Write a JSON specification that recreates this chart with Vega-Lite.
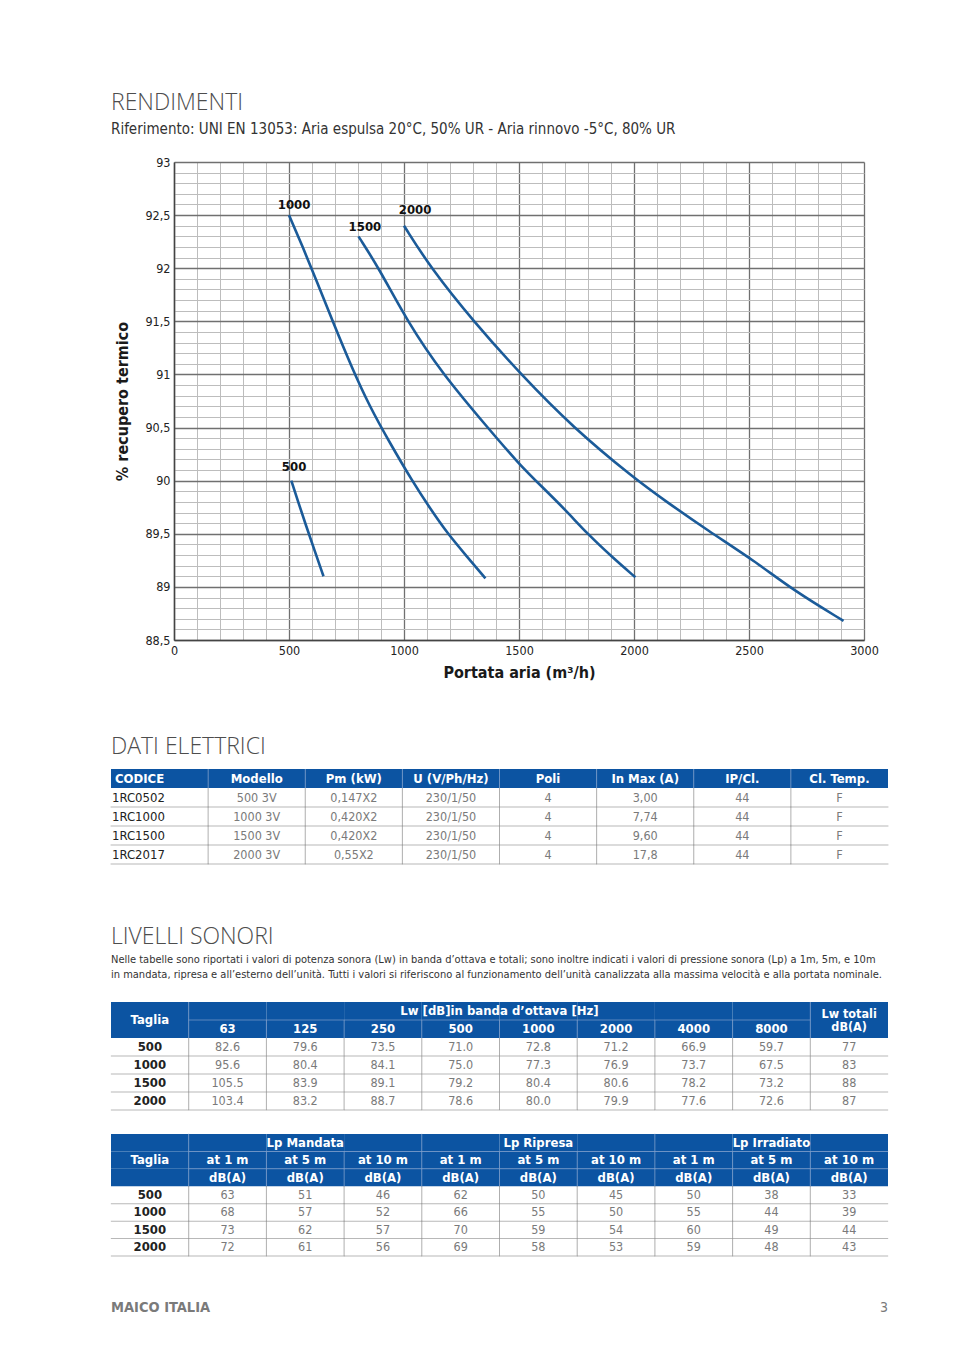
{
  "$schema": "https://vega.github.io/schema/vega-lite/v6.json",
  "background": "white",
  "padding": {"left": 110, "top": 92, "right": 10, "bottom": 10},
  "config": {
    "view": {"stroke": null},
    "font": "Liberation Sans Narrow, Arial Narrow, DejaVu Sans Condensed, sans-serif"
  },
  "datasets": {
    "curves": [
      {"model": "500", "x": 510, "y": 90.0}, {"model": "500", "x": 540, "y": 89.8}, {"model": "500", "x": 572, "y": 89.59}, {"model": "500", "x": 610, "y": 89.35}, {"model": "500", "x": 650, "y": 89.1},
      {"model": "1000", "x": 500, "y": 92.5}, {"model": "1000", "x": 560, "y": 92.2}, {"model": "1000", "x": 620, "y": 91.88}, {"model": "1000", "x": 690, "y": 91.5}, {"model": "1000", "x": 770, "y": 91.08}, {"model": "1000", "x": 850, "y": 90.7}, {"model": "1000", "x": 940, "y": 90.35}, {"model": "1000", "x": 1035, "y": 90.0}, {"model": "1000", "x": 1110, "y": 89.75}, {"model": "1000", "x": 1190, "y": 89.5}, {"model": "1000", "x": 1272, "y": 89.29}, {"model": "1000", "x": 1354, "y": 89.08},
      {"model": "1500", "x": 802, "y": 92.3}, {"model": "1500", "x": 891, "y": 92.0}, {"model": "1500", "x": 1014, "y": 91.5}, {"model": "1500", "x": 1169, "y": 91.0}, {"model": "1500", "x": 1364, "y": 90.5}, {"model": "1500", "x": 1498, "y": 90.16}, {"model": "1500", "x": 1601, "y": 89.94}, {"model": "1500", "x": 1704, "y": 89.72}, {"model": "1500", "x": 1797, "y": 89.5}, {"model": "1500", "x": 1910, "y": 89.27}, {"model": "1500", "x": 2006, "y": 89.09},
      {"model": "2000", "x": 1000, "y": 92.4}, {"model": "2000", "x": 1117, "y": 92.0}, {"model": "2000", "x": 1302, "y": 91.5}, {"model": "2000", "x": 1508, "y": 91.0}, {"model": "2000", "x": 1735, "y": 90.5}, {"model": "2000", "x": 2002, "y": 90.02}, {"model": "2000", "x": 2136, "y": 89.81}, {"model": "2000", "x": 2321, "y": 89.53}, {"model": "2000", "x": 2527, "y": 89.24}, {"model": "2000", "x": 2691, "y": 88.97}, {"model": "2000", "x": 2911, "y": 88.68}
    ],
    "labels": [
      {"label": "1000", "x": 522, "y": 92.595},
      {"label": "1500", "x": 830, "y": 92.39},
      {"label": "2000", "x": 1048, "y": 92.55},
      {"label": "500", "x": 522, "y": 90.13}
    ],
    "eh": [
      {"r": "h", "key": "cod", "t": "CODICE"}, {"r": "h", "key": "mod", "t": "Modello"}, {"r": "h", "key": "pm", "t": "Pm (kW)"}, {"r": "h", "key": "u", "t": "U (V/Ph/Hz)"},
      {"r": "h", "key": "poli", "t": "Poli"}, {"r": "h", "key": "inmax", "t": "In Max (A)"}, {"r": "h", "key": "ip", "t": "IP/Cl."}, {"r": "h", "key": "cl", "t": "Cl. Temp."}
    ],
    "eb": [
      {"r": "1RC0502", "cod": "1RC0502", "mod": "500 3V", "pm": "0,147X2", "u": "230/1/50", "poli": "4", "inmax": "3,00", "ip": "44", "cl": "F"},
      {"r": "1RC1000", "cod": "1RC1000", "mod": "1000 3V", "pm": "0,420X2", "u": "230/1/50", "poli": "4", "inmax": "7,74", "ip": "44", "cl": "F"},
      {"r": "1RC1500", "cod": "1RC1500", "mod": "1500 3V", "pm": "0,420X2", "u": "230/1/50", "poli": "4", "inmax": "9,60", "ip": "44", "cl": "F"},
      {"r": "1RC2017", "cod": "1RC2017", "mod": "2000 3V", "pm": "0,55X2", "u": "230/1/50", "poli": "4", "inmax": "17,8", "ip": "44", "cl": "F"}
    ],
    "lwh": [
      {"r": "h2", "key": "Taglia", "t": "Taglia"},
      {"r": "h1", "key": "1000", "t": "Lw [dB]in banda d’ottava [Hz]"},
      {"r": "h2", "key": "63", "t": "63"}, {"r": "h2", "key": "125", "t": "125"}, {"r": "h2", "key": "250", "t": "250"}, {"r": "h2", "key": "500", "t": "500"},
      {"r": "h2", "key": "1000", "t": "1000"}, {"r": "h2", "key": "2000", "t": "2000"}, {"r": "h2", "key": "4000", "t": "4000"}, {"r": "h2", "key": "8000", "t": "8000"},
      {"r": "h2", "key": "tot", "t": "Lw totali\ndB(A)"}
    ],
    "lw": [
      {"r": "500", "Taglia": "500", "63": "82.6", "125": "79.6", "250": "73.5", "500": "71.0", "1000": "72.8", "2000": "71.2", "4000": "66.9", "8000": "59.7", "tot": "77"},
      {"r": "1000", "Taglia": "1000", "63": "95.6", "125": "80.4", "250": "84.1", "500": "75.0", "1000": "77.3", "2000": "76.9", "4000": "73.7", "8000": "67.5", "tot": "83"},
      {"r": "1500", "Taglia": "1500", "63": "105.5", "125": "83.9", "250": "89.1", "500": "79.2", "1000": "80.4", "2000": "80.6", "4000": "78.2", "8000": "73.2", "tot": "88"},
      {"r": "2000", "Taglia": "2000", "63": "103.4", "125": "83.2", "250": "88.7", "500": "78.6", "1000": "80.0", "2000": "79.9", "4000": "77.6", "8000": "72.6", "tot": "87"}
    ],
    "lph": [
      {"r": "h1", "key": "M5", "t": "Lp Mandata"}, {"r": "h1", "key": "R5", "t": "Lp Ripresa"}, {"r": "h1", "key": "I5", "t": "Lp Irradiato"},
      {"r": "h2", "key": "Taglia", "t": "Taglia"},
      {"r": "h2", "key": "M1", "t": "at 1 m"}, {"r": "h2", "key": "M5", "t": "at 5 m"}, {"r": "h2", "key": "M10", "t": "at 10 m"},
      {"r": "h2", "key": "R1", "t": "at 1 m"}, {"r": "h2", "key": "R5", "t": "at 5 m"}, {"r": "h2", "key": "R10", "t": "at 10 m"},
      {"r": "h2", "key": "I1", "t": "at 1 m"}, {"r": "h2", "key": "I5", "t": "at 5 m"}, {"r": "h2", "key": "I10", "t": "at 10 m"},
      {"r": "h3", "key": "Taglia", "t": ""},
      {"r": "h3", "key": "M1", "t": "dB(A)"}, {"r": "h3", "key": "M5", "t": "dB(A)"}, {"r": "h3", "key": "M10", "t": "dB(A)"},
      {"r": "h3", "key": "R1", "t": "dB(A)"}, {"r": "h3", "key": "R5", "t": "dB(A)"}, {"r": "h3", "key": "R10", "t": "dB(A)"},
      {"r": "h3", "key": "I1", "t": "dB(A)"}, {"r": "h3", "key": "I5", "t": "dB(A)"}, {"r": "h3", "key": "I10", "t": "dB(A)"}
    ],
    "lp": [
      {"r": "500", "Taglia": "500", "M1": "63", "M5": "51", "M10": "46", "R1": "62", "R5": "50", "R10": "45", "I1": "50", "I5": "38", "I10": "33"},
      {"r": "1000", "Taglia": "1000", "M1": "68", "M5": "57", "M10": "52", "R1": "66", "R5": "55", "R10": "50", "I1": "55", "I5": "44", "I10": "39"},
      {"r": "1500", "Taglia": "1500", "M1": "73", "M5": "62", "M10": "57", "R1": "70", "R5": "59", "R10": "54", "I1": "60", "I5": "49", "I10": "44"},
      {"r": "2000", "Taglia": "2000", "M1": "72", "M5": "61", "M10": "56", "R1": "69", "R5": "58", "R10": "53", "I1": "59", "I5": "48", "I10": "43"}
    ],
    "foot": [
      {"side": "L", "t": "MAICO ITALIA"},
      {"side": "R", "t": "3"}
    ]
  },
  "spacing": 61,
  "vconcat": [
    {
      "spacing": 55,
      "vconcat": [
        {
          "width": 753,
          "height": 478,
          "title": {
            "text": "RENDIMENTI",
            "subtitle": "Riferimento: UNI EN 13053: Aria espulsa 20°C, 50% UR - Aria rinnovo -5°C, 80% UR",
            "anchor": "start", "frame": "group",
            "font": "Open Sans", "fontSize": 23, "fontWeight": 300, "color": "#4d4d4d",
            "subtitleFont": "Liberation Sans Narrow, Arial Narrow, DejaVu Sans Condensed, sans-serif",
            "subtitleFontSize": 15, "subtitleColor": "#333333", "subtitlePadding": 7, "offset": 19
          },
          "encoding": {
            "x": {
              "field": "x", "type": "quantitative",
              "scale": {"domain": [0, 3000], "nice": false, "range": [63, 753]},
              "axis": {
                "title": "Portata aria (m³/h)",
                "values": [0, 100, 200, 300, 400, 500, 600, 700, 800, 900, 1000, 1100, 1200, 1300, 1400, 1500, 1600, 1700, 1800, 1900, 2000, 2100, 2200, 2300, 2400, 2500, 2600, 2700, 2800, 2900, 3000],
                "format": "d",
                "grid": true,
                "gridColor": {"condition": {"test": "datum.value % 500 == 0", "value": "#707070"}, "value": "#bdbdbd"},
                "gridWidth": {"condition": {"test": "datum.value % 500 == 0", "value": 1.3}, "value": 1},
                "ticks": false,
                "domainColor": "#444444", "domainWidth": 1.5,
                "labelExpr": "datum.value % 500 == 0 ? datum.label : ''",
                "labelOverlap": false, "labelFlush": false,
                "labelFontSize": 12.5, "labelColor": "#222222", "labelPadding": 4,
                "titleFontSize": 16, "titleFontWeight": "bold", "titleColor": "#1a1a1a", "titlePadding": 8
              }
            },
            "y": {
              "field": "y", "type": "quantitative",
              "scale": {"domain": [88.5, 93], "nice": false, "zero": false},
              "axis": {
                "title": "% recupero termico",
                "offset": -63,
                "values": [88.5, 88.6, 88.7, 88.8, 88.9, 89, 89.1, 89.2, 89.3, 89.4, 89.5, 89.6, 89.7, 89.8, 89.9, 90, 90.1, 90.2, 90.3, 90.4, 90.5, 90.6, 90.7, 90.8, 90.9, 91, 91.1, 91.2, 91.3, 91.4, 91.5, 91.6, 91.7, 91.8, 91.9, 92, 92.1, 92.2, 92.3, 92.4, 92.5, 92.6, 92.7, 92.8, 92.9, 93],
                "grid": true,
                "gridColor": {"condition": {"test": "abs(datum.value*2 - round(datum.value*2)) < 0.01", "value": "#707070"}, "value": "#bdbdbd"},
                "gridWidth": {"condition": {"test": "abs(datum.value*2 - round(datum.value*2)) < 0.01", "value": 1.3}, "value": 1},
                "ticks": false,
                "domainColor": "#444444", "domainWidth": 1.5,
                "labelExpr": "abs(datum.value*2 - round(datum.value*2)) < 0.01 ? replace(format(datum.value, '.1~f'), '.', ',') : ''",
                "labelOverlap": false, "labelFlush": false,
                "labelFontSize": 12.5, "labelColor": "#222222", "labelPadding": 4,
                "titleFontSize": 16, "titleFontWeight": "bold", "titleColor": "#1a1a1a", "titlePadding": 14
              }
            }
          },
          "layer": [
            {
              "data": {"name": "curves"},
              "mark": {"type": "line", "color": "#1b5b99", "strokeWidth": 2.6, "interpolate": "basis"},
              "encoding": {"detail": {"field": "model", "type": "nominal"}}
            },
            {
              "data": {"name": "labels"},
              "mark": {"type": "text", "fontWeight": "bold", "fontSize": 13, "color": "#111111"},
              "encoding": {"text": {"field": "label"}}
            }
          ]
        },
        {
          "width": 777,
          "height": 95,
          "title": {"text": "DATI ELETTRICI", "anchor": "start", "frame": "group", "font": "Open Sans", "fontSize": 23, "fontWeight": 300, "color": "#4d4d4d", "offset": 10},
          "layer": [
            {
              "data": {"name": "eh"},
              "mark": {"type": "rect", "color": "#0c54a2"},
              "encoding": {
                "x": {"field": "key", "type": "nominal", "scale": {"type": "band", "domain": ["cod", "mod", "pm", "u", "poli", "inmax", "ip", "cl"], "paddingInner": 0, "paddingOuter": 0}, "axis": null},
                "y": {"field": "r", "type": "nominal", "scale": {"type": "band", "domain": ["h", "1RC0502", "1RC1000", "1RC1500", "1RC2017"], "paddingInner": 0, "paddingOuter": 0}, "axis": null}
              }
            },
            {
              "data": {"name": "eh"},
              "transform": [{"filter": "datum.key != 'cod'"}],
              "mark": {"type": "tick", "orient": "vertical", "color": "#7d9dcb", "size": 19, "thickness": 1},
              "encoding": {
                "x": {"field": "key", "type": "nominal", "bandPosition": 0, "scale": {"type": "band", "domain": ["cod", "mod", "pm", "u", "poli", "inmax", "ip", "cl"], "paddingInner": 0, "paddingOuter": 0}, "axis": null},
                "y": {"field": "r", "type": "nominal", "scale": {"type": "band", "domain": ["h", "1RC0502", "1RC1000", "1RC1500", "1RC2017"], "paddingInner": 0, "paddingOuter": 0}, "axis": null}
              }
            },
            {
              "data": {"name": "eh"},
              "transform": [{"filter": "datum.key != 'cod'"}],
              "mark": {"type": "text", "color": "white", "fontWeight": "bold", "fontSize": 13},
              "encoding": {
                "x": {"field": "key", "type": "nominal", "scale": {"type": "band", "domain": ["cod", "mod", "pm", "u", "poli", "inmax", "ip", "cl"], "paddingInner": 0, "paddingOuter": 0}, "axis": null},
                "y": {"field": "r", "type": "nominal", "scale": {"type": "band", "domain": ["h", "1RC0502", "1RC1000", "1RC1500", "1RC2017"], "paddingInner": 0, "paddingOuter": 0}, "axis": null},
                "text": {"field": "t"}
              }
            },
            {
              "data": {"name": "eh"},
              "transform": [{"filter": "datum.key == 'cod'"}],
              "mark": {"type": "text", "color": "white", "fontWeight": "bold", "fontSize": 13, "align": "left", "dx": 4},
              "encoding": {
                "x": {"field": "key", "type": "nominal", "bandPosition": 0, "scale": {"type": "band", "domain": ["cod", "mod", "pm", "u", "poli", "inmax", "ip", "cl"], "paddingInner": 0, "paddingOuter": 0}, "axis": null},
                "y": {"field": "r", "type": "nominal", "scale": {"type": "band", "domain": ["h", "1RC0502", "1RC1000", "1RC1500", "1RC2017"], "paddingInner": 0, "paddingOuter": 0}, "axis": null},
                "text": {"field": "t"}
              }
            },
            {
              "data": {"name": "eb"},
              "transform": [{"fold": ["cod", "mod", "pm", "u", "poli", "inmax", "ip", "cl"], "as": ["key", "t"]}, {"filter": "datum.key != 'cod'"}],
              "mark": {"type": "tick", "orient": "vertical", "color": "#8c8c8c", "size": 19, "thickness": 1},
              "encoding": {
                "x": {"field": "key", "type": "nominal", "bandPosition": 0, "scale": {"type": "band", "domain": ["cod", "mod", "pm", "u", "poli", "inmax", "ip", "cl"], "paddingInner": 0, "paddingOuter": 0}, "axis": null},
                "y": {"field": "r", "type": "nominal", "scale": {"type": "band", "domain": ["h", "1RC0502", "1RC1000", "1RC1500", "1RC2017"], "paddingInner": 0, "paddingOuter": 0}, "axis": null}
              }
            },
            {
              "data": {"name": "eb"},
              "transform": [{"fold": ["cod", "mod", "pm", "u", "poli", "inmax", "ip", "cl"], "as": ["key", "t"]}],
              "mark": {"type": "tick", "orient": "horizontal", "color": "#9a9a9a", "size": 98, "thickness": 1},
              "encoding": {
                "x": {"field": "key", "type": "nominal", "scale": {"type": "band", "domain": ["cod", "mod", "pm", "u", "poli", "inmax", "ip", "cl"], "paddingInner": 0, "paddingOuter": 0}, "axis": null},
                "y": {"field": "r", "type": "nominal", "bandPosition": 1, "scale": {"type": "band", "domain": ["h", "1RC0502", "1RC1000", "1RC1500", "1RC2017"], "paddingInner": 0, "paddingOuter": 0}, "axis": null}
              }
            },
            {
              "data": {"name": "eb"},
              "transform": [{"fold": ["cod", "mod", "pm", "u", "poli", "inmax", "ip", "cl"], "as": ["key", "t"]}, {"filter": "datum.key != 'cod'"}],
              "mark": {"type": "text", "color": "#7a7a7a", "fontSize": 12.5},
              "encoding": {
                "x": {"field": "key", "type": "nominal", "scale": {"type": "band", "domain": ["cod", "mod", "pm", "u", "poli", "inmax", "ip", "cl"], "paddingInner": 0, "paddingOuter": 0}, "axis": null},
                "y": {"field": "r", "type": "nominal", "scale": {"type": "band", "domain": ["h", "1RC0502", "1RC1000", "1RC1500", "1RC2017"], "paddingInner": 0, "paddingOuter": 0}, "axis": null},
                "text": {"field": "t"}
              }
            },
            {
              "data": {"name": "eb"},
              "transform": [{"fold": ["cod", "mod", "pm", "u", "poli", "inmax", "ip", "cl"], "as": ["key", "t"]}, {"filter": "datum.key == 'cod'"}],
              "mark": {"type": "text", "color": "#222222", "fontSize": 13, "align": "left", "dx": 1},
              "encoding": {
                "x": {"field": "key", "type": "nominal", "bandPosition": 0, "scale": {"type": "band", "domain": ["cod", "mod", "pm", "u", "poli", "inmax", "ip", "cl"], "paddingInner": 0, "paddingOuter": 0}, "axis": null},
                "y": {"field": "r", "type": "nominal", "scale": {"type": "band", "domain": ["h", "1RC0502", "1RC1000", "1RC1500", "1RC2017"], "paddingInner": 0, "paddingOuter": 0}, "axis": null},
                "text": {"field": "t"}
              }
            }
          ]
        }
      ]
    },
    {
      "spacing": 22,
      "vconcat": [
        {
          "width": 777,
          "height": 108,
          "title": {
            "text": "LIVELLI SONORI",
            "subtitle": ["Nelle tabelle sono riportati i valori di potenza sonora (Lw)  in banda d’ottava e totali; sono inoltre indicati i valori di pressione sonora (Lp) a 1m, 5m, e 10m", "in mandata, ripresa e all’esterno dell’unità. Tutti i valori si riferiscono al funzionamento dell’unità canalizzata alla massima velocità e alla portata nominale."],
            "anchor": "start", "frame": "group",
            "font": "Open Sans", "fontSize": 23, "fontWeight": 300, "color": "#4d4d4d",
            "subtitleFont": "Liberation Sans Narrow, Arial Narrow, DejaVu Sans Condensed, sans-serif",
            "subtitleFontSize": 11, "subtitleColor": "#333333", "subtitleLineHeight": 15, "subtitlePadding": 5, "offset": 22
          },
          "layer": [
            {
              "data": {"name": "lwh"},
              "transform": [{"filter": "datum.r == 'h2'"}],
              "mark": {"type": "rect", "color": "#0c54a2"},
              "encoding": {
                "x": {"field": "key", "type": "nominal", "scale": {"type": "band", "domain": ["Taglia", "63", "125", "250", "500", "1000", "2000", "4000", "8000", "tot"], "paddingInner": 0, "paddingOuter": 0}, "axis": null},
                "y": {"datum": "h1", "type": "nominal", "scale": {"type": "band", "domain": ["h1", "h2", "500", "1000", "1500", "2000"], "paddingInner": 0, "paddingOuter": 0}, "axis": null}
              }
            },
            {
              "data": {"name": "lwh"},
              "transform": [{"filter": "datum.r == 'h2'"}],
              "mark": {"type": "rect", "color": "#0c54a2"},
              "encoding": {
                "x": {"field": "key", "type": "nominal", "scale": {"type": "band", "domain": ["Taglia", "63", "125", "250", "500", "1000", "2000", "4000", "8000", "tot"], "paddingInner": 0, "paddingOuter": 0}, "axis": null},
                "y": {"field": "r", "type": "nominal", "scale": {"type": "band", "domain": ["h1", "h2", "500", "1000", "1500", "2000"], "paddingInner": 0, "paddingOuter": 0}, "axis": null}
              }
            },
            {
              "data": {"name": "lwh"},
              "transform": [{"filter": "datum.r == 'h2' && datum.key != 'Taglia'"}],
              "mark": {"type": "tick", "orient": "vertical", "color": "#7d9dcb", "size": 18, "thickness": 1},
              "encoding": {
                "x": {"field": "key", "type": "nominal", "bandPosition": 0, "scale": {"type": "band", "domain": ["Taglia", "63", "125", "250", "500", "1000", "2000", "4000", "8000", "tot"], "paddingInner": 0, "paddingOuter": 0}, "axis": null},
                "y": {"field": "r", "type": "nominal", "scale": {"type": "band", "domain": ["h1", "h2", "500", "1000", "1500", "2000"], "paddingInner": 0, "paddingOuter": 0}, "axis": null}
              }
            },
            {
              "data": {"name": "lwh"},
              "transform": [{"filter": "datum.r == 'h2' && (datum.key == '63' || datum.key == 'tot')"}],
              "mark": {"type": "tick", "orient": "vertical", "color": "#7d9dcb", "size": 18, "thickness": 1},
              "encoding": {
                "x": {"field": "key", "type": "nominal", "bandPosition": 0, "scale": {"type": "band", "domain": ["Taglia", "63", "125", "250", "500", "1000", "2000", "4000", "8000", "tot"], "paddingInner": 0, "paddingOuter": 0}, "axis": null},
                "y": {"datum": "h1", "type": "nominal", "scale": {"type": "band", "domain": ["h1", "h2", "500", "1000", "1500", "2000"], "paddingInner": 0, "paddingOuter": 0}, "axis": null}
              }
            },
            {
              "data": {"name": "lwh"},
              "transform": [{"filter": "datum.r == 'h2' && datum.key != 'Taglia' && datum.key != 'tot'"}],
              "mark": {"type": "tick", "orient": "horizontal", "color": "#7d9dcb", "size": 78, "thickness": 1},
              "encoding": {
                "x": {"field": "key", "type": "nominal", "scale": {"type": "band", "domain": ["Taglia", "63", "125", "250", "500", "1000", "2000", "4000", "8000", "tot"], "paddingInner": 0, "paddingOuter": 0}, "axis": null},
                "y": {"field": "r", "type": "nominal", "bandPosition": 0, "scale": {"type": "band", "domain": ["h1", "h2", "500", "1000", "1500", "2000"], "paddingInner": 0, "paddingOuter": 0}, "axis": null}
              }
            },
            {
              "data": {"name": "lwh"},
              "transform": [{"filter": "datum.r == 'h2' && datum.key != 'Taglia' && datum.key != 'tot'"}],
              "mark": {"type": "text", "color": "white", "fontWeight": "bold", "fontSize": 13},
              "encoding": {
                "x": {"field": "key", "type": "nominal", "scale": {"type": "band", "domain": ["Taglia", "63", "125", "250", "500", "1000", "2000", "4000", "8000", "tot"], "paddingInner": 0, "paddingOuter": 0}, "axis": null},
                "y": {"field": "r", "type": "nominal", "scale": {"type": "band", "domain": ["h1", "h2", "500", "1000", "1500", "2000"], "paddingInner": 0, "paddingOuter": 0}, "axis": null},
                "text": {"field": "t"}
              }
            },
            {
              "data": {"name": "lwh"},
              "transform": [{"filter": "datum.key == 'Taglia'"}],
              "mark": {"type": "text", "color": "white", "fontWeight": "bold", "fontSize": 13},
              "encoding": {
                "x": {"field": "key", "type": "nominal", "scale": {"type": "band", "domain": ["Taglia", "63", "125", "250", "500", "1000", "2000", "4000", "8000", "tot"], "paddingInner": 0, "paddingOuter": 0}, "axis": null},
                "y": {"field": "r", "type": "nominal", "bandPosition": 0, "scale": {"type": "band", "domain": ["h1", "h2", "500", "1000", "1500", "2000"], "paddingInner": 0, "paddingOuter": 0}, "axis": null},
                "text": {"field": "t"}
              }
            },
            {
              "data": {"name": "lwh"},
              "transform": [{"filter": "datum.key == 'tot'"}],
              "mark": {"type": "text", "color": "white", "fontWeight": "bold", "fontSize": 12.5, "lineBreak": "\n", "lineHeight": 13, "dy": -6},
              "encoding": {
                "x": {"field": "key", "type": "nominal", "scale": {"type": "band", "domain": ["Taglia", "63", "125", "250", "500", "1000", "2000", "4000", "8000", "tot"], "paddingInner": 0, "paddingOuter": 0}, "axis": null},
                "y": {"field": "r", "type": "nominal", "bandPosition": 0, "scale": {"type": "band", "domain": ["h1", "h2", "500", "1000", "1500", "2000"], "paddingInner": 0, "paddingOuter": 0}, "axis": null},
                "text": {"field": "t"}
              }
            },
            {
              "data": {"name": "lwh"},
              "transform": [{"filter": "datum.r == 'h1'"}],
              "mark": {"type": "text", "color": "white", "fontWeight": "bold", "fontSize": 13},
              "encoding": {
                "x": {"field": "key", "type": "nominal", "bandPosition": 0, "scale": {"type": "band", "domain": ["Taglia", "63", "125", "250", "500", "1000", "2000", "4000", "8000", "tot"], "paddingInner": 0, "paddingOuter": 0}, "axis": null},
                "y": {"field": "r", "type": "nominal", "scale": {"type": "band", "domain": ["h1", "h2", "500", "1000", "1500", "2000"], "paddingInner": 0, "paddingOuter": 0}, "axis": null},
                "text": {"field": "t"}
              }
            },
            {
              "data": {"name": "lw"},
              "transform": [{"fold": ["Taglia", "63", "125", "250", "500", "1000", "2000", "4000", "8000", "tot"], "as": ["key", "t"]}, {"filter": "datum.key != 'Taglia'"}],
              "mark": {"type": "tick", "orient": "vertical", "color": "#8c8c8c", "size": 18, "thickness": 1},
              "encoding": {
                "x": {"field": "key", "type": "nominal", "bandPosition": 0, "scale": {"type": "band", "domain": ["Taglia", "63", "125", "250", "500", "1000", "2000", "4000", "8000", "tot"], "paddingInner": 0, "paddingOuter": 0}, "axis": null},
                "y": {"field": "r", "type": "nominal", "scale": {"type": "band", "domain": ["h1", "h2", "500", "1000", "1500", "2000"], "paddingInner": 0, "paddingOuter": 0}, "axis": null}
              }
            },
            {
              "data": {"name": "lw"},
              "transform": [{"fold": ["Taglia", "63", "125", "250", "500", "1000", "2000", "4000", "8000", "tot"], "as": ["key", "t"]}],
              "mark": {"type": "tick", "orient": "horizontal", "color": "#9a9a9a", "size": 78, "thickness": 1},
              "encoding": {
                "x": {"field": "key", "type": "nominal", "scale": {"type": "band", "domain": ["Taglia", "63", "125", "250", "500", "1000", "2000", "4000", "8000", "tot"], "paddingInner": 0, "paddingOuter": 0}, "axis": null},
                "y": {"field": "r", "type": "nominal", "bandPosition": 1, "scale": {"type": "band", "domain": ["h1", "h2", "500", "1000", "1500", "2000"], "paddingInner": 0, "paddingOuter": 0}, "axis": null}
              }
            },
            {
              "data": {"name": "lw"},
              "transform": [{"fold": ["Taglia", "63", "125", "250", "500", "1000", "2000", "4000", "8000", "tot"], "as": ["key", "t"]}, {"filter": "datum.key != 'Taglia'"}],
              "mark": {"type": "text", "color": "#7a7a7a", "fontSize": 12.5},
              "encoding": {
                "x": {"field": "key", "type": "nominal", "scale": {"type": "band", "domain": ["Taglia", "63", "125", "250", "500", "1000", "2000", "4000", "8000", "tot"], "paddingInner": 0, "paddingOuter": 0}, "axis": null},
                "y": {"field": "r", "type": "nominal", "scale": {"type": "band", "domain": ["h1", "h2", "500", "1000", "1500", "2000"], "paddingInner": 0, "paddingOuter": 0}, "axis": null},
                "text": {"field": "t"}
              }
            },
            {
              "data": {"name": "lw"},
              "transform": [{"fold": ["Taglia", "63", "125", "250", "500", "1000", "2000", "4000", "8000", "tot"], "as": ["key", "t"]}, {"filter": "datum.key == 'Taglia'"}],
              "mark": {"type": "text", "color": "#222222", "fontSize": 13, "fontWeight": "bold"},
              "encoding": {
                "x": {"field": "key", "type": "nominal", "scale": {"type": "band", "domain": ["Taglia", "63", "125", "250", "500", "1000", "2000", "4000", "8000", "tot"], "paddingInner": 0, "paddingOuter": 0}, "axis": null},
                "y": {"field": "r", "type": "nominal", "scale": {"type": "band", "domain": ["h1", "h2", "500", "1000", "1500", "2000"], "paddingInner": 0, "paddingOuter": 0}, "axis": null},
                "text": {"field": "t"}
              }
            }
          ]
        },
        {
          "width": 777,
          "height": 122,
          "layer": [
            {
              "data": {"name": "lph"},
              "transform": [{"filter": "datum.r == 'h3'"}],
              "mark": {"type": "rect", "color": "#0c54a2"},
              "encoding": {
                "x": {"field": "key", "type": "nominal", "scale": {"type": "band", "domain": ["Taglia", "M1", "M5", "M10", "R1", "R5", "R10", "I1", "I5", "I10"], "paddingInner": 0, "paddingOuter": 0}, "axis": null},
                "y": {"datum": "h1", "type": "nominal", "scale": {"type": "band", "domain": ["h1", "h2", "h3", "500", "1000", "1500", "2000"], "paddingInner": 0, "paddingOuter": 0}, "axis": null}
              }
            },
            {
              "data": {"name": "lph"},
              "transform": [{"filter": "datum.r == 'h3'"}],
              "mark": {"type": "rect", "color": "#0c54a2"},
              "encoding": {
                "x": {"field": "key", "type": "nominal", "scale": {"type": "band", "domain": ["Taglia", "M1", "M5", "M10", "R1", "R5", "R10", "I1", "I5", "I10"], "paddingInner": 0, "paddingOuter": 0}, "axis": null},
                "y": {"datum": "h2", "type": "nominal", "scale": {"type": "band", "domain": ["h1", "h2", "h3", "500", "1000", "1500", "2000"], "paddingInner": 0, "paddingOuter": 0}, "axis": null}
              }
            },
            {
              "data": {"name": "lph"},
              "transform": [{"filter": "datum.r == 'h3'"}],
              "mark": {"type": "rect", "color": "#0c54a2"},
              "encoding": {
                "x": {"field": "key", "type": "nominal", "scale": {"type": "band", "domain": ["Taglia", "M1", "M5", "M10", "R1", "R5", "R10", "I1", "I5", "I10"], "paddingInner": 0, "paddingOuter": 0}, "axis": null},
                "y": {"field": "r", "type": "nominal", "scale": {"type": "band", "domain": ["h1", "h2", "h3", "500", "1000", "1500", "2000"], "paddingInner": 0, "paddingOuter": 0}, "axis": null}
              }
            },
            {
              "data": {"name": "lph"},
              "transform": [{"filter": "datum.r == 'h3' && (datum.key == 'M1' || datum.key == 'R1' || datum.key == 'I1')"}],
              "mark": {"type": "tick", "orient": "vertical", "color": "#7d9dcb", "size": 18, "thickness": 1},
              "encoding": {
                "x": {"field": "key", "type": "nominal", "bandPosition": 0, "scale": {"type": "band", "domain": ["Taglia", "M1", "M5", "M10", "R1", "R5", "R10", "I1", "I5", "I10"], "paddingInner": 0, "paddingOuter": 0}, "axis": null},
                "y": {"datum": "h1", "type": "nominal", "scale": {"type": "band", "domain": ["h1", "h2", "h3", "500", "1000", "1500", "2000"], "paddingInner": 0, "paddingOuter": 0}, "axis": null}
              }
            },
            {
              "data": {"name": "lph"},
              "transform": [{"filter": "datum.r != 'h1' && datum.key != 'Taglia'"}],
              "mark": {"type": "tick", "orient": "vertical", "color": "#7d9dcb", "size": 18, "thickness": 1},
              "encoding": {
                "x": {"field": "key", "type": "nominal", "bandPosition": 0, "scale": {"type": "band", "domain": ["Taglia", "M1", "M5", "M10", "R1", "R5", "R10", "I1", "I5", "I10"], "paddingInner": 0, "paddingOuter": 0}, "axis": null},
                "y": {"field": "r", "type": "nominal", "scale": {"type": "band", "domain": ["h1", "h2", "h3", "500", "1000", "1500", "2000"], "paddingInner": 0, "paddingOuter": 0}, "axis": null}
              }
            },
            {
              "data": {"name": "lph"},
              "transform": [{"filter": "datum.r != 'h1' && datum.key != 'Taglia'"}],
              "mark": {"type": "tick", "orient": "horizontal", "color": "#7d9dcb", "size": 78, "thickness": 1},
              "encoding": {
                "x": {"field": "key", "type": "nominal", "scale": {"type": "band", "domain": ["Taglia", "M1", "M5", "M10", "R1", "R5", "R10", "I1", "I5", "I10"], "paddingInner": 0, "paddingOuter": 0}, "axis": null},
                "y": {"field": "r", "type": "nominal", "bandPosition": 0, "scale": {"type": "band", "domain": ["h1", "h2", "h3", "500", "1000", "1500", "2000"], "paddingInner": 0, "paddingOuter": 0}, "axis": null}
              }
            },
            {
              "data": {"name": "lph"},
              "transform": [{"filter": "datum.t != ''"}],
              "mark": {"type": "text", "color": "white", "fontWeight": "bold", "fontSize": 13},
              "encoding": {
                "x": {"field": "key", "type": "nominal", "scale": {"type": "band", "domain": ["Taglia", "M1", "M5", "M10", "R1", "R5", "R10", "I1", "I5", "I10"], "paddingInner": 0, "paddingOuter": 0}, "axis": null},
                "y": {"field": "r", "type": "nominal", "scale": {"type": "band", "domain": ["h1", "h2", "h3", "500", "1000", "1500", "2000"], "paddingInner": 0, "paddingOuter": 0}, "axis": null},
                "text": {"field": "t"}
              }
            },
            {
              "data": {"name": "lp"},
              "transform": [{"fold": ["Taglia", "M1", "M5", "M10", "R1", "R5", "R10", "I1", "I5", "I10"], "as": ["key", "t"]}, {"filter": "datum.key != 'Taglia'"}],
              "mark": {"type": "tick", "orient": "vertical", "color": "#8c8c8c", "size": 18, "thickness": 1},
              "encoding": {
                "x": {"field": "key", "type": "nominal", "bandPosition": 0, "scale": {"type": "band", "domain": ["Taglia", "M1", "M5", "M10", "R1", "R5", "R10", "I1", "I5", "I10"], "paddingInner": 0, "paddingOuter": 0}, "axis": null},
                "y": {"field": "r", "type": "nominal", "scale": {"type": "band", "domain": ["h1", "h2", "h3", "500", "1000", "1500", "2000"], "paddingInner": 0, "paddingOuter": 0}, "axis": null}
              }
            },
            {
              "data": {"name": "lp"},
              "transform": [{"fold": ["Taglia", "M1", "M5", "M10", "R1", "R5", "R10", "I1", "I5", "I10"], "as": ["key", "t"]}],
              "mark": {"type": "tick", "orient": "horizontal", "color": "#9a9a9a", "size": 78, "thickness": 1},
              "encoding": {
                "x": {"field": "key", "type": "nominal", "scale": {"type": "band", "domain": ["Taglia", "M1", "M5", "M10", "R1", "R5", "R10", "I1", "I5", "I10"], "paddingInner": 0, "paddingOuter": 0}, "axis": null},
                "y": {"field": "r", "type": "nominal", "bandPosition": 1, "scale": {"type": "band", "domain": ["h1", "h2", "h3", "500", "1000", "1500", "2000"], "paddingInner": 0, "paddingOuter": 0}, "axis": null}
              }
            },
            {
              "data": {"name": "lp"},
              "transform": [{"fold": ["Taglia", "M1", "M5", "M10", "R1", "R5", "R10", "I1", "I5", "I10"], "as": ["key", "t"]}, {"filter": "datum.key != 'Taglia'"}],
              "mark": {"type": "text", "color": "#7a7a7a", "fontSize": 12.5},
              "encoding": {
                "x": {"field": "key", "type": "nominal", "scale": {"type": "band", "domain": ["Taglia", "M1", "M5", "M10", "R1", "R5", "R10", "I1", "I5", "I10"], "paddingInner": 0, "paddingOuter": 0}, "axis": null},
                "y": {"field": "r", "type": "nominal", "scale": {"type": "band", "domain": ["h1", "h2", "h3", "500", "1000", "1500", "2000"], "paddingInner": 0, "paddingOuter": 0}, "axis": null},
                "text": {"field": "t"}
              }
            },
            {
              "data": {"name": "lp"},
              "transform": [{"fold": ["Taglia", "M1", "M5", "M10", "R1", "R5", "R10", "I1", "I5", "I10"], "as": ["key", "t"]}, {"filter": "datum.key == 'Taglia'"}],
              "mark": {"type": "text", "color": "#222222", "fontSize": 13, "fontWeight": "bold"},
              "encoding": {
                "x": {"field": "key", "type": "nominal", "scale": {"type": "band", "domain": ["Taglia", "M1", "M5", "M10", "R1", "R5", "R10", "I1", "I5", "I10"], "paddingInner": 0, "paddingOuter": 0}, "axis": null},
                "y": {"field": "r", "type": "nominal", "scale": {"type": "band", "domain": ["h1", "h2", "h3", "500", "1000", "1500", "2000"], "paddingInner": 0, "paddingOuter": 0}, "axis": null},
                "text": {"field": "t"}
              }
            }
          ]
        },
        {
          "width": 777,
          "height": 58,
          "layer": [
            {
              "data": {"name": "foot"},
              "transform": [{"filter": "datum.side == 'L'"}],
              "mark": {"type": "text", "align": "left", "fontWeight": "bold", "fontSize": 14.5, "color": "#7a7a7a"},
              "encoding": {
                "x": {"field": "side", "type": "nominal", "bandPosition": 0, "scale": {"type": "band", "domain": ["L", "R"], "paddingInner": 0, "paddingOuter": 0}, "axis": null},
                "text": {"field": "t"}
              }
            },
            {
              "data": {"name": "foot"},
              "transform": [{"filter": "datum.side == 'R'"}],
              "mark": {"type": "text", "align": "right", "fontSize": 14, "color": "#7a7a7a"},
              "encoding": {
                "x": {"field": "side", "type": "nominal", "bandPosition": 1, "scale": {"type": "band", "domain": ["L", "R"], "paddingInner": 0, "paddingOuter": 0}, "axis": null},
                "text": {"field": "t"}
              }
            }
          ]
        }
      ]
    }
  ]
}
